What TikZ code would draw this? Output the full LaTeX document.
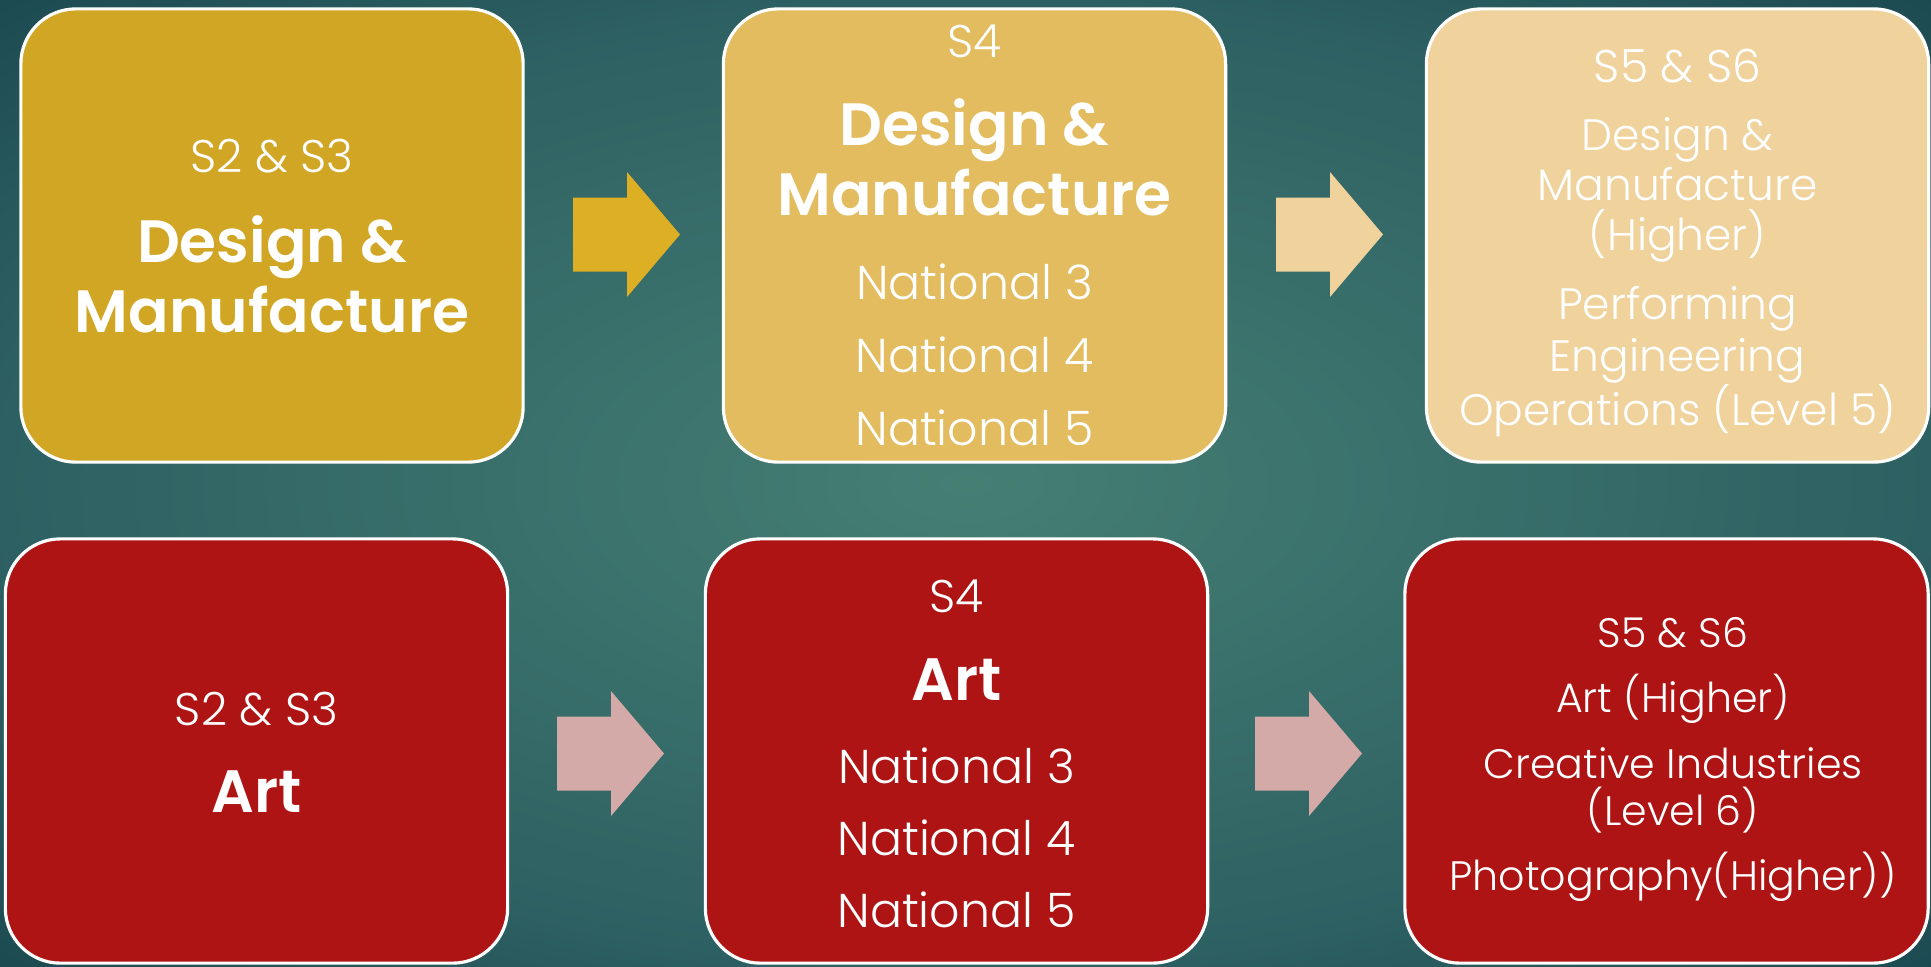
\documentclass[tikz,border=0pt]{standalone}
\usepackage{fontspec}
\setmainfont{Poppins}[UprightFont=* Light, BoldFont=* SemiBold]
\usetikzlibrary{calc}

\definecolor{bgin}{HTML}{457F74}
\definecolor{bgmid}{HTML}{2D6062}
\definecolor{bgout}{HTML}{1B4951}
\definecolor{dmgold}{HTML}{D1A625}
\definecolor{dmsand}{HTML}{E2BC5E}
\definecolor{dmcream}{HTML}{EFD29C}
\definecolor{arrgold}{HTML}{DDAF25}
\definecolor{artred}{HTML}{AF1414}
\definecolor{artpink}{HTML}{D4AAA9}

\pgfdeclareradialshading{glow}{\pgfpoint{0bp}{0bp}}{color(0bp)=(bgin); color(25bp)=(bgmid); color(36bp)=(bgout); color(50bp)=(bgout)}

% block arrow: left x, middle y, colour
\newcommand{\blockarr}[3]{\fill[#3] (#1,{#2-37}) -- ++(54,0) -- ++(0,-25.5) -- ({#1+107},#2) -- ({#1+54},{#2+62.5}) -- ++(0,-25.5) -- (#1,{#2+37}) -- cycle;}

\begin{document}
\begin{tikzpicture}[x=0.01cm,y=-0.01cm,
  box/.style={draw=white,line width=0.9pt,rounded corners=0.55cm,minimum width=5.02cm,minimum height=4.53cm},
  lowbox/.style={box,minimum height=4.24cm},
  txt/.style={text=white,anchor=base,inner sep=0pt},
  slbl/.style={txt,font=\fontsize{13pt}{15pt}\selectfont},
  nat/.style={txt,font=\fontsize{13.5pt}{16pt}\selectfont},
  head/.style={txt,font=\fontsize{17pt}{20pt}\selectfont\bfseries},
  small/.style={txt,font=\fontsize{12.5pt}{15pt}\selectfont},
  tiny/.style={txt,font=\fontsize{11.7pt}{14pt}\selectfont}]
  \shade[shading=glow] (0,0) rectangle (1931,966);
  \useasboundingbox (0,0) rectangle (1931,966);

  % design & manufacture row
  \node[box,fill=dmgold] (dmA) at (272,235.5) {};
  \node[box,fill=dmsand] (dmB) at (974.5,235.5) {};
  \node[box,fill=dmcream] (dmC) at (1677.5,235.5) {};
  \blockarr{573}{234.5}{arrgold}
  \blockarr{1276}{234.5}{dmcream}

  \node[slbl] (dmA1) at (272,172) {S2 \& S3};
  \node[head] (dmA2) at (272,262) {Design \&};
  \node[head] (dmA3) at (272,332) {Manufacture};

  \node[slbl] (dmB1) at (974.5,57) {S4};
  \node[head] (dmB2) at (974.5,145) {Design \&};
  \node[head] (dmB3) at (974.5,215) {Manufacture};
  \node[nat] (dmB4) at (974.5,299) {National 3};
  \node[nat] (dmB5) at (974.5,372) {National 4};
  \node[nat] (dmB6) at (974.5,445) {National 5};

  \node[slbl] (dmC1) at (1677.5,82) {S5 \& S6};
  \node[small] (dmC2) at (1677.5,150) {Design \&};
  \node[small] (dmC3) at (1677.5,200) {Manufacture};
  \node[small] (dmC4) at (1677.5,250) {(Higher)};
  \node[small] (dmC5) at (1677.5,319) {Performing};
  \node[small] (dmC6) at (1677.5,371) {Engineering};
  \node[small] (dmC7) at (1677.5,425) {Operations (Level 5)};

  % art row
  \node[lowbox,fill=artred] (artA) at (256.5,751) {};
  \node[lowbox,fill=artred] (artB) at (956.5,751) {};
  \node[lowbox,fill=artred,minimum width=5.23cm] (artC) at (1666.5,751) {};
  \blockarr{557}{753.5}{artpink}
  \blockarr{1255}{753.5}{artpink}

  \node[slbl] (artA1) at (256.5,725) {S2 \& S3};
  \node[head] (artA2) at (256.5,812) {Art};

  \node[slbl] (artB1) at (956.5,612) {S4};
  \node[head] (artB2) at (956.5,700) {Art};
  \node[nat] (artB3) at (956.5,783) {National 3};
  \node[nat] (artB4) at (956.5,855) {National 4};
  \node[nat] (artB5) at (956.5,927) {National 5};

  \node[tiny] (artC1) at (1673,647) {S5 \& S6};
  \node[tiny] (artC2) at (1673,712) {Art (Higher)};
  \node[tiny] (artC3) at (1673,778) {Creative Industries};
  \node[tiny] (artC4) at (1673,825) {(Level 6)};
  \node[tiny] (artC5) at (1673,890) {Photography(Higher))};
\end{tikzpicture}
\end{document}
